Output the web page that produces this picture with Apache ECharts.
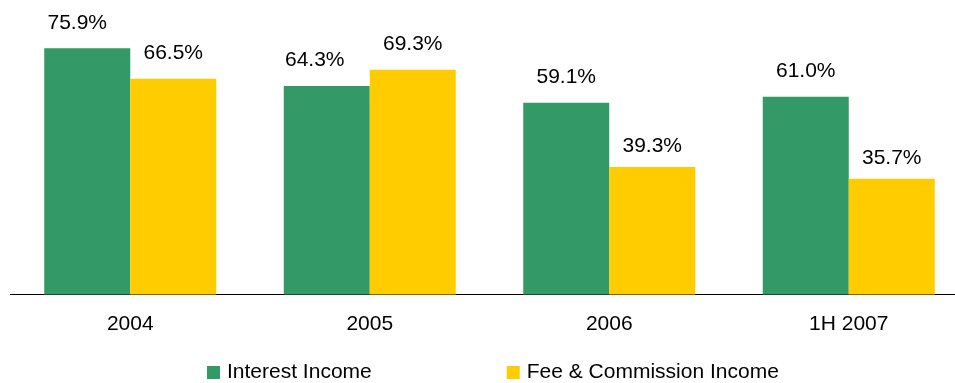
<!DOCTYPE html>
<html>
<head>
<meta charset="utf-8">
<script src="https://cdn.jsdelivr.net/npm/echarts@6/dist/echarts.min.js"></script>
<style>
  html, body { margin: 0; padding: 0; background: #ffffff; }
  #chart { width: 955px; height: 383px; }
</style>
</head>
<body>
<div id="chart"></div>
<script>
// Income share by period (%)
var periods = ['2004', '2005', '2006', '1H 2007'];
var interestIncome = [75.9, 64.3, 59.1, 61.0];
var feeCommissionIncome = [66.5, 69.3, 39.3, 35.7];

// Per-bar nudges for value labels that sit off-centre
var interestLabelOffsets = [[-10, 0], [-12, 0], [0, 0], [0, 0]];
var feeLabelOffsets = [[0, 0], [0, 0], [0, 5], [0, 5]];

var FONT = '"Liberation Sans", Arial, sans-serif';

function withOffsets(values, offsets) {
  return values.map(function (v, i) {
    return { value: v, label: { offset: offsets[i] } };
  });
}

var chart = echarts.init(document.getElementById('chart'), null, { renderer: 'canvas' });

chart.setOption({
  animation: false,
  backgroundColor: '#ffffff',
  textStyle: { fontFamily: FONT },
  grid: {
    left: 10.5, top: 35, width: 958, height: 259.5,
    containLabel: false, outerBoundsMode: 'none'
  },
  legend: {
    left: 207,
    top: 362,
    padding: 0,
    itemWidth: 13,
    itemHeight: 13,
    itemGap: 135,
    icon: 'rect',
    textStyle: { fontFamily: FONT, fontSize: 21, color: '#000', padding: [0, 0, 0, 2] },
    data: ['Interest Income', 'Fee & Commission Income']
  },
  xAxis: {
    type: 'category',
    data: periods,
    axisLine: { show: true, lineStyle: { color: '#000', width: 1 } },
    axisTick: { show: false },
    axisLabel: { fontFamily: FONT, fontSize: 21, color: '#000', margin: 19 }
  },
  yAxis: {
    type: 'value',
    min: 0,
    max: 80,
    show: false,
    splitLine: { show: false }
  },
  series: [
    {
      name: 'Interest Income',
      type: 'bar',
      barWidth: 86,
      barGap: '0%',
      itemStyle: { color: '#339966' },
      label: {
        show: true,
        position: 'top',
        distance: 15,
        fontFamily: FONT,
        fontSize: 21,
        color: '#000',
        formatter: function (p) { return p.value.toFixed(1) + '%'; }
      },
      data: withOffsets(interestIncome, interestLabelOffsets)
    },
    {
      name: 'Fee & Commission Income',
      type: 'bar',
      barWidth: 86,
      barGap: '0%',
      itemStyle: { color: '#FFCC00' },
      label: {
        show: true,
        position: 'top',
        distance: 15,
        fontFamily: FONT,
        fontSize: 21,
        color: '#000',
        formatter: function (p) { return p.value.toFixed(1) + '%'; }
      },
      data: withOffsets(feeCommissionIncome, feeLabelOffsets)
    }
  ]
});
</script>
</body>
</html>
